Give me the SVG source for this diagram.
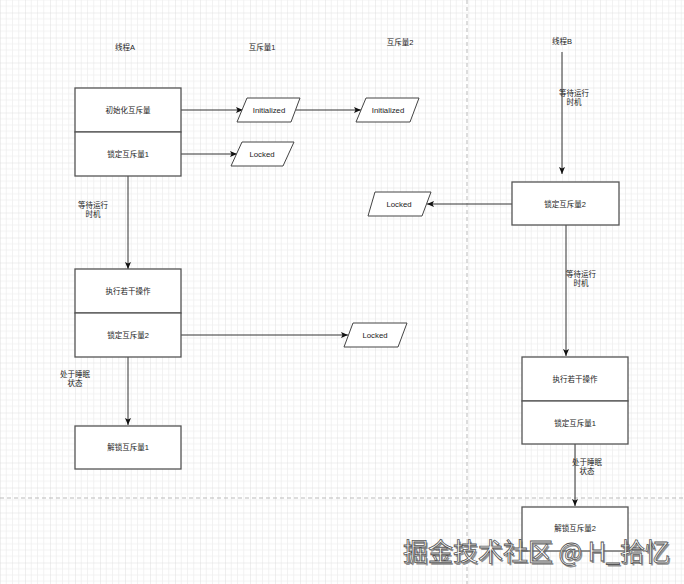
<svg xmlns="http://www.w3.org/2000/svg" width="684" height="584" viewBox="0 0 684 584">
<defs>
<pattern id="grid" patternUnits="userSpaceOnUse" x="0" y="12.5" width="25" height="25">
<path d="M6.25 0V25M12.5 0V25M18.75 0V25M0 6.25H25M0 12.5H25M0 18.75H25" stroke="#efefef" stroke-width="0.8" fill="none"/>
<path d="M0 0V25M0 0H25" stroke="#dcdcdc" stroke-width="0.9" fill="none"/>
</pattern>
<marker id="arr" markerWidth="8" markerHeight="8" refX="7" refY="4" orient="auto" markerUnits="userSpaceOnUse">
<path d="M0 1 L7 4 L0 7 L1.5 4 Z" fill="#111"/>
</marker>
<style>
.box{fill:#fff;stroke:#555;stroke-width:1.3}
.para{fill:#fff;stroke:#444;stroke-width:1}
.t{font-family:"Liberation Sans","Noto Sans CJK SC",sans-serif;font-size:7.5px;fill:#222;text-anchor:middle;dominant-baseline:central}
.lt{font-size:7.8px}
.edge{stroke:#333;stroke-width:1;fill:none;marker-end:url(#arr)}
.dash{stroke:#bbb;stroke-width:1;stroke-dasharray:4 3;fill:none}
.wm{font-family:"Noto Sans CJK SC","Liberation Sans",sans-serif;font-size:25px}
.wms{fill:#666;opacity:0.7}
.wmf{fill:#fff;stroke:#555;stroke-width:0.8}
</style>
</defs>
<rect width="684" height="584" fill="#fff"/>
<rect width="684" height="584" fill="url(#grid)"/>
<g id="separators">
<line class="dash" x1="467" y1="0" x2="467" y2="584"/>
<line class="dash" x1="0" y1="498" x2="684" y2="498"/>
</g>
<g id="headers">
<text class="t" x="125" y="47">线程A</text>
<text class="t" x="262" y="47">互斥量1</text>
<text class="t" x="400" y="42">互斥量2</text>
<text class="t" x="562" y="41">线程B</text>
</g>
<g id="connectors">
<line class="edge" x1="181" y1="110" x2="243" y2="110"/>
<line class="edge" x1="296" y1="110" x2="361" y2="110"/>
<line class="edge" x1="181" y1="154" x2="237" y2="154"/>
<line class="edge" x1="128" y1="176" x2="128" y2="269"/>
<line class="edge" x1="181" y1="335" x2="348" y2="335"/>
<line class="edge" x1="128" y1="357" x2="128" y2="425"/>
<line class="edge" x1="562" y1="52" x2="562" y2="174"/>
<line class="edge" x1="512" y1="204" x2="427" y2="204"/>
<line class="edge" x1="566" y1="225" x2="566" y2="356"/>
<line class="edge" x1="575" y1="444" x2="575" y2="506"/>
<g id="edge-labels">
<text class="t" x="93" y="205">等待运行</text>
<text class="t" x="93" y="214">时机</text>
<text class="t" x="75" y="374">处于睡眠</text>
<text class="t" x="75" y="383">状态</text>
<text class="t" x="574" y="93">等待运行</text>
<text class="t" x="574" y="102">时机</text>
<text class="t" x="581" y="274">等待运行</text>
<text class="t" x="581" y="283">时机</text>
<text class="t" x="587" y="462">处于睡眠</text>
<text class="t" x="587" y="471">状态</text>
</g>
</g>
<g id="A1"><rect class="box" x="75" y="88" width="106" height="44"/><text class="t" x="128" y="110">初始化互斥量</text></g>
<g id="A2"><rect class="box" x="75" y="132" width="106" height="44"/><text class="t" x="128" y="154">锁定互斥量1</text></g>
<g id="A3"><rect class="box" x="75" y="269" width="106" height="44"/><text class="t" x="128" y="291">执行若干操作</text></g>
<g id="A4"><rect class="box" x="75" y="313" width="106" height="44"/><text class="t" x="128" y="335">锁定互斥量2</text></g>
<g id="A5"><rect class="box" x="75" y="426" width="106" height="43"/><text class="t" x="128" y="447">解锁互斥量1</text></g>
<g id="B1"><rect class="box" x="512" y="182" width="107" height="43"/><text class="t" x="565" y="204">锁定互斥量2</text></g>
<g id="B2"><rect class="box" x="522" y="357" width="106" height="44"/><text class="t" x="575" y="379">执行若干操作</text></g>
<g id="B3"><rect class="box" x="522" y="401" width="106" height="43"/><text class="t" x="575" y="423">锁定互斥量1</text></g>
<g id="B4"><rect class="box" x="522" y="507" width="106" height="44"/><text class="t" x="575" y="528">解锁互斥量2</text></g>
<g id="M1-init"><polygon class="para" points="247,98 300,98 291,122 237,122"/><text class="t lt" x="269" y="110">Initialized</text></g>
<g id="M2-init"><polygon class="para" points="366,98 419,98 410,122 356,122"/><text class="t lt" x="388" y="110">Initialized</text></g>
<g id="M1-locked"><polygon class="para" points="242,142 294,142 283,166 231,166"/><text class="t lt" x="262" y="154">Locked</text></g>
<g id="M2-locked-B"><polygon class="para" points="375,192 431,192 422,216 368,216"/><text class="t lt" x="399" y="204">Locked</text></g>
<g id="M2-locked-A"><polygon class="para" points="353,323 407,323 398,347 344,347"/><text class="t lt" x="375" y="335">Locked</text></g>
<g id="watermark">
<text class="wm wms" x="404.5" y="562.5">掘金技术社区 @ H_拾忆</text>
<text class="wm wmf" x="403" y="561">掘金技术社区 @ H_拾忆</text>
</g>
</svg>
